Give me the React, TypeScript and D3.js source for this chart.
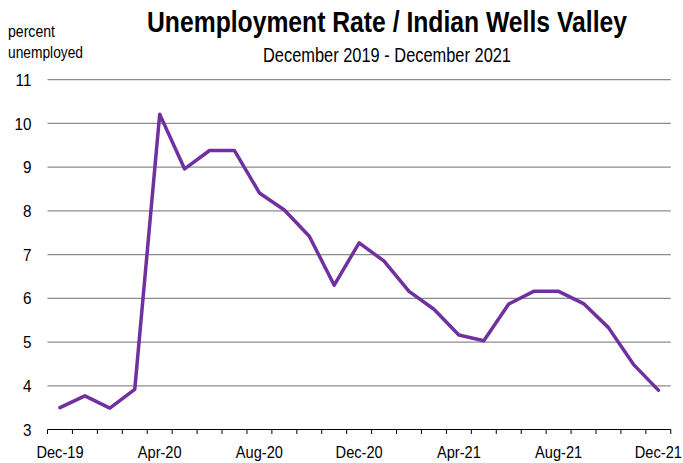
import React from "react";
import * as d3 from "d3";

const months = [
  "Dec-19","Jan-20","Feb-20","Mar-20","Apr-20","May-20","Jun-20","Jul-20","Aug-20","Sep-20","Oct-20","Nov-20",
  "Dec-20","Jan-21","Feb-21","Mar-21","Apr-21","May-21","Jun-21","Jul-21","Aug-21","Sep-21","Oct-21","Nov-21","Dec-21",
];
const rates = [
  3.5, 3.77, 3.49, 3.92, 10.21, 8.96, 9.38, 9.38, 8.41, 8.02, 7.42, 6.3,
  7.27, 6.85, 6.16, 5.75, 5.16, 5.03, 5.87, 6.16, 6.16, 5.88, 5.33, 4.49, 3.9,
];
const yTicks = [3, 4, 5, 6, 7, 8, 9, 10, 11];
const xLabels = ["Dec-19", "Apr-20", "Aug-20", "Dec-20", "Apr-21", "Aug-21", "Dec-21"];

const W = 683, H = 463;
const left = 47.5, right = 670.8, top = 79.7, bottom = 429.5;
const font = "'Liberation Sans', Arial, sans-serif";

function NText(props: { x: number; y: number; sx: number; anchor?: string; size: number; bold?: boolean; children: any; dy?: string; width?: number }) {
  const { x, y, sx, anchor = "start", size, bold, children, dy, width } = props;
  return (
    <text
      transform={`translate(${x},${y}) scale(${sx},1)`}
      textAnchor={anchor}
      dy={dy}
      textLength={width ? width / sx : undefined}
      lengthAdjust={width ? "spacingAndGlyphs" : undefined}
      fontFamily={font}
      fontWeight={bold ? "bold" : "normal"}
      fontSize={size}
      fill="#000"
    >
      {children}
    </text>
  );
}

export default function App() {
  const x = d3.scaleBand<string>().domain(months).range([left, right]).padding(0);
  const y = d3.scaleLinear().domain([3, 11]).range([bottom, top]);
  const cx = (m: string) => (x(m) as number) + x.bandwidth() / 2;
  const line = d3.line<number>().x((_, i) => cx(months[i])).y((d) => y(d));
  const boundaries = d3.range(months.length + 1).map((i) => left + i * x.bandwidth());

  return (
    <svg width={W} height={H} style={{ position: "absolute", left: 0, top: 0, background: "#fff" }}>
      <NText x={147} y={31.5} sx={0.853} width={480} size={29} bold>
        Unemployment Rate / Indian Wells Valley
      </NText>
      <NText x={263} y={62} sx={0.824} width={248} size={20}>
        December 2019 - December 2021
      </NText>
      <NText x={8} y={36.5} sx={0.82} width={47} size={17}>percent</NText>
      <NText x={8} y={57.5} sx={0.82} width={75} size={17}>unemployed</NText>

      {yTicks.filter((t) => t > 3).map((t) => (
        <line key={t} x1={left} x2={right} y1={y(t)} y2={y(t)} stroke="#8c8c8c" strokeWidth={1.2} />
      ))}
      {yTicks.map((t) => (
        <NText key={"l" + t} x={31.5} y={y(t)} dy="0.36em" sx={0.9} anchor="end" size={17}>
          {t}
        </NText>
      ))}

      <line x1={left} x2={right} y1={bottom} y2={bottom} stroke="#000" strokeWidth={1} />
      {boundaries.map((b, i) => (
        <line key={"t" + i} x1={b} x2={b} y1={bottom} y2={bottom + 4.5} stroke="#000" strokeWidth={1} />
      ))}
      {xLabels.map((m) => (
        <NText key={m} x={cx(m)} y={457.5} sx={0.86} anchor="middle" size={17}>
          {m}
        </NText>
      ))}

      <path d={line(rates) || ""} fill="none" stroke="#7030A0" strokeWidth={3.5} strokeLinejoin="round" strokeLinecap="round" />
    </svg>
  );
}
